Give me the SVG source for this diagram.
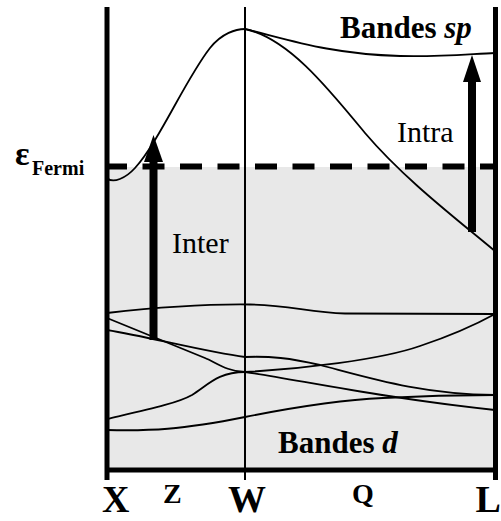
<svg xmlns="http://www.w3.org/2000/svg" width="501" height="521" viewBox="0 0 501 521">
<style>
.band{fill:none;stroke:#000;stroke-width:1.8;stroke-linecap:round}
.axis{stroke:#000;stroke-width:5;fill:none}
.lbl{font-family:"Liberation Serif","Times New Roman",serif;fill:#000}
.b{font-weight:bold}
.arrow{fill:#000}
</style>
<rect width="501" height="521" fill="#fff"/>
<rect id="filled" x="107" y="167" width="388" height="303" fill="#e8e8e8"/>
<g id="connectors">
<path class="band" d="M107,178 C113,184 126,178 135,168 C160,140 185,80 210,48 C222,33 236,29 245,29"/>
<path class="band" d="M245,29 C290,40 330,54 400,56 C440,57 470,54 495,53"/>
<path class="band" d="M245,29 C288,38 328,88 365,133 C405,180 458,220 496,252"/>
<path class="band" d="M107,313 C160,307 210,304 250,304.5 C290,305 310,313 345,313.5 L495,314"/>
<path class="band" d="M107,318 L205,358 C215,362 228,372 245,372"/>
<path class="band" d="M107,330 C150,337 205,352 245,357"/>
<path class="band" d="M107,419 C150,409 178,403 192,395 C208,385 218,372 245,372"/>
<path class="band" d="M107,430 C150,431 180,430 245,417 C290,408 340,400 383,398 C420,396 460,395 495,395"/>
<path class="band" d="M245,357 C270,356 290,358 320,365 C370,378 420,394 495,395"/>
<path class="band" d="M245,372 C300,369 380,360 420,346 C450,336 475,325 495,314"/>
<path class="band" d="M245,372 C300,380 380,398 495,410"/>
</g>
<g id="fermi-level">
<line x1="105" y1="166.5" x2="495" y2="166.5" stroke="#000" stroke-width="6" stroke-dasharray="22 15.5"/>
</g>
<g id="axes">
<line class="axis" x1="107" y1="7" x2="107" y2="480"/>
<line class="axis" x1="495.5" y1="7" x2="495.5" y2="480"/>
<line class="axis" x1="107" y1="470" x2="495.5" y2="470"/>
<line x1="245" y1="7" x2="245" y2="480" stroke="#000" stroke-width="2"/>
</g>
<g id="arrow-inter">
<rect class="arrow" x="149.5" y="160" width="8" height="180"/>
<polygon class="arrow" points="144,162 163,162 153.5,135"/>
<text class="lbl" x="172" y="253" font-size="30">Inter</text>
</g>
<g id="arrow-intra">
<rect class="arrow" x="468" y="80" width="8" height="152"/>
<polygon class="arrow" points="463,82 481,82 472,55"/>
<text class="lbl" x="397" y="142" font-size="30">Intra</text>
</g>
<g id="label-fermi">
<text class="lbl b" x="15" y="165" font-size="34">ε</text>
<text class="lbl b" x="32" y="175" font-size="20">Fermi</text>
</g>
<g id="label-sp">
<text class="lbl b" x="340" y="38" font-size="31">Bandes <tspan font-style="italic">sp</tspan></text>
</g>
<g id="label-d">
<text class="lbl b" x="278" y="453" font-size="31">Bandes <tspan font-style="italic">d</tspan></text>
</g>
<g id="kpoints">
<text class="lbl b" x="102" y="512" font-size="38">X</text>
<text class="lbl b" x="163" y="503" font-size="28">Z</text>
<text class="lbl b" x="247" y="512" font-size="38" text-anchor="middle">W</text>
<text class="lbl b" x="363" y="503" font-size="28" text-anchor="middle">Q</text>
<text class="lbl b" x="475.5" y="512" font-size="38">L</text>
</g>
</svg>
